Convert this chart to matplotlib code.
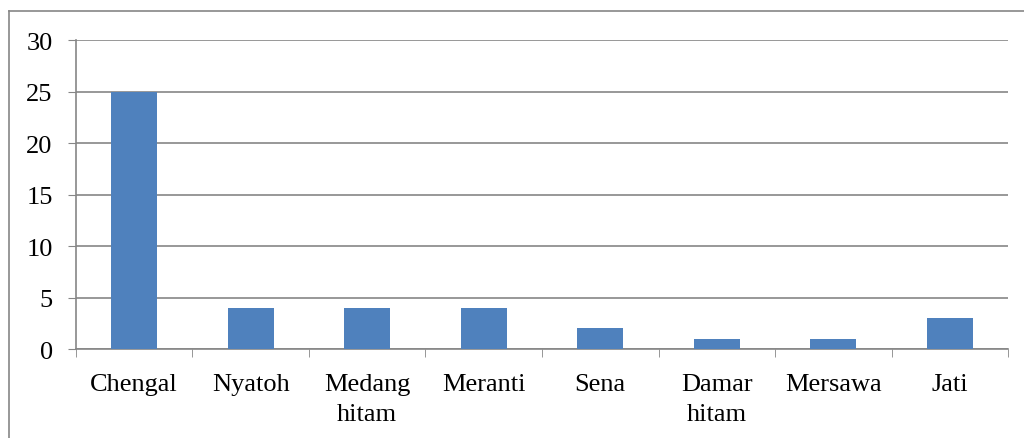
import matplotlib.pyplot as plt
from matplotlib.lines import Line2D
import numpy as np

# Data
species = ["Chengal", "Nyatoh", "Medang\nhitam", "Meranti", "Sena", "Damar\nhitam", "Mersawa", "Jati"]
counts = [25, 4, 4, 4, 2, 1, 1, 3]
y_ticks = [0, 5, 10, 15, 20, 25, 30]

plt.rcParams['font.family'] = ['Liberation Serif', 'DejaVu Serif']

fig = plt.figure(figsize=(10.24, 4.39), dpi=100)
ax = fig.add_axes([0.0742, 0.2027, 0.9102, 0.7039])

x = np.arange(len(species))
ax.bar(x, counts, width=0.395, color='#4F81BD', zorder=3)

# Axis setup
ax.set_xlim(-0.5, len(species) - 0.5)
ax.set_ylim(0, 30)
ax.set_yticks(y_ticks)
ax.set_yticklabels([str(v) for v in y_ticks], fontsize=19)
ax.set_xticks(x)
ax.set_xticklabels(species, fontsize=19, linespacing=1.5)
ax.tick_params(axis='x', length=0, pad=17)
ax.tick_params(axis='y', length=5.8, color='#868686', pad=11)

# Tick marks between categories
ax.set_xticks(np.arange(-0.5, len(species) + 0.5, 1), minor=True)
ax.tick_params(axis='x', which='minor', length=5.8, color='#868686')

ax.yaxis.grid(True, color='#868686', linewidth=1.2, zorder=0)
for side in ['top', 'right']:
    ax.spines[side].set_visible(False)
for side in ['left', 'bottom']:
    ax.spines[side].set_color('#868686')
    ax.spines[side].set_linewidth(1.2)

# Outer frame (only top and left edges are inside the picture)
bx, by = 9 / 1024, 1 - 12 / 439
fig.lines.append(Line2D([bx, 1], [by, by], transform=fig.transFigure, color='#868686', lw=1.2))
fig.lines.append(Line2D([bx, bx], [0, by], transform=fig.transFigure, color='#868686', lw=1.2))

plt.savefig('out.png', dpi=100)
